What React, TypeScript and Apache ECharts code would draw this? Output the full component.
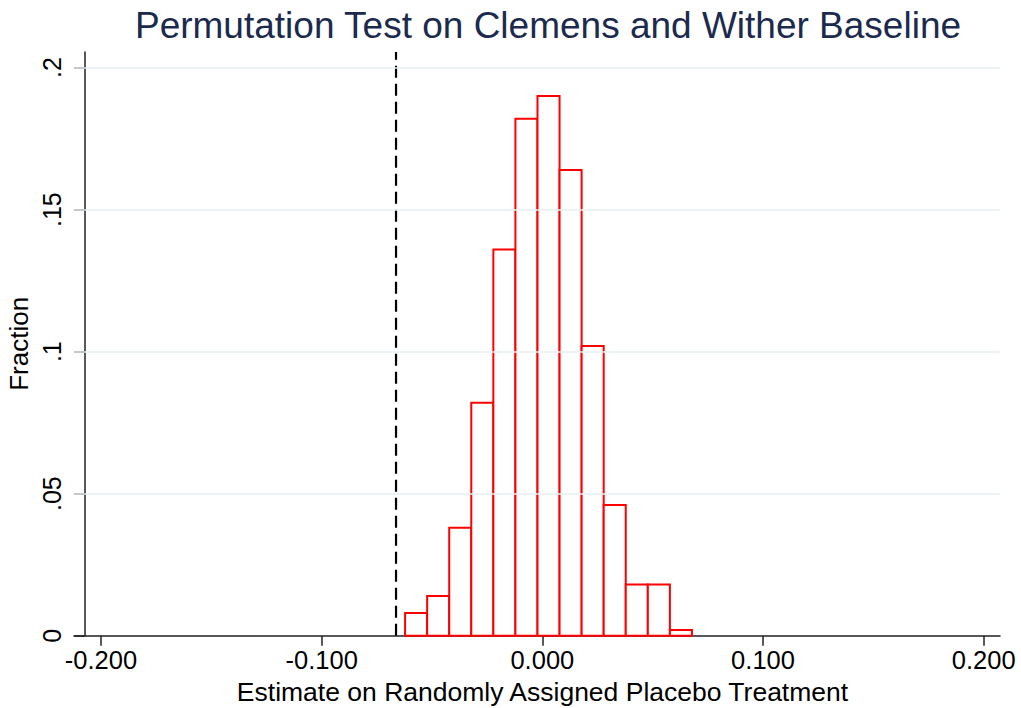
import React, { useEffect, useRef } from "react";
import * as echarts from "echarts";

// Histogram bins (lower edges) and fractions
const binStarts = [-0.0622, -0.0522, -0.0422, -0.0322, -0.0222, -0.0122, -0.0022, 0.0078, 0.0178, 0.0278, 0.0378, 0.0478, 0.0578];
const fractions = [0.008, 0.014, 0.038, 0.082, 0.136, 0.182, 0.19, 0.164, 0.102, 0.046, 0.018, 0.018, 0.002];
const binWidth = 0.01;
const actualEstimate = -0.0663;

const xTicks = [-0.2, -0.1, 0, 0.1, 0.2];
const xTickLabels = ["-0.200", "-0.100", "0.000", "0.100", "0.200"];
const yTicks = [0, 0.05, 0.1, 0.15, 0.2];
const yTickLabels = ["0", ".05", ".1", ".15", ".2"];
const yMax = 0.2055;

const titleText = "Permutation Test on Clemens and Wither Baseline";
const xName = "Estimate on Randomly Assigned Placebo Treatment";
const yName = "Fraction";

const FONT = "'Liberation Sans', Arial, sans-serif";

export default function App() {
  const ref = useRef<HTMLDivElement>(null);
  useEffect(() => {
    if (!ref.current) return;
    const chart = echarts.init(ref.current, undefined, { renderer: "svg" });
    const data = binStarts.map((s, i) => [s, fractions[i]]);
    const option: any = {
      animation: false,
      backgroundColor: "#ffffff",
      title: {
        text: titleText,
        left: 543,
        top: 2,
        textAlign: "center",
        textStyle: { fontFamily: FONT, fontSize: 37, fontWeight: "normal", color: "#1c2a4e" },
      },
      grid: { left: 74, right: 21, top: 52, bottom: 72.3, containLabel: false, outerBoundsMode: "none" },
      xAxis: {
        type: "value",
        min: -0.21223,
        max: 0.20739,
        name: xName,
        nameLocation: "middle",
        nameGap: 43,
        nameTextStyle: { fontFamily: FONT, fontSize: 26.5, color: "#000", padding: [0, 0, 0, 11] },
        axisLine: { show: true, onZero: false, lineStyle: { color: "#222", width: 1.5 } },
        axisTick: { show: true, length: 10, customValues: xTicks, lineStyle: { color: "#222", width: 1.5 } },
        axisLabel: {
          customValues: xTicks,
          margin: 11,
          fontFamily: FONT,
          fontSize: 25.5,
          color: "#000",
          formatter: (v: number) => {
            const i = xTicks.findIndex((t) => Math.abs(t - v) < 1e-9);
            return i >= 0 ? xTickLabels[i] : "";
          },
        },
        splitLine: { show: false },
      },
      yAxis: {
        type: "value",
        min: 0,
        max: yMax,
        offset: -10.7,
        name: yName,
        nameLocation: "middle",
        nameGap: 49,
        nameTextStyle: { fontFamily: FONT, fontSize: 26, color: "#000" },
        axisLine: { show: true, onZero: false, lineStyle: { color: "#222", width: 1.5 } },
        axisTick: { show: true, length: 10.7, customValues: yTicks, lineStyle: { color: "#222", width: 1.5 } },
        axisLabel: {
          customValues: yTicks,
          rotate: 90,
          margin: 20,
          fontFamily: FONT,
          fontSize: 25,
          color: "#000",
          formatter: (v: number) => {
            const i = yTicks.findIndex((t) => Math.abs(t - v) < 1e-9);
            return i >= 0 ? yTickLabels[i] : "";
          },
        },
        splitLine: { show: false },
      },
      series: [
        {
          type: "custom",
          data,
          renderItem: (params: any, api: any) => {
            const x0 = api.value(0);
            const h = api.value(1);
            const p0 = api.coord([x0, 0]);
            const p1 = api.coord([x0 + binWidth, h]);
            return {
              type: "rect",
              shape: { x: p0[0], y: p1[1], width: p1[0] - p0[0], height: p0[1] - p1[1] },
              style: { fill: "#ffffff", stroke: "#ff0000", lineWidth: 2 },
            };
          },
          markLine: {
            silent: true,
            symbol: "none",
            label: { show: false },
            data: yTicks.filter((t) => t > 0).map((t) => ({
              yAxis: t,
              lineStyle: { color: "#e6eff1", width: 1.5, type: "solid" },
            })),
          },
          z: 3,
        },
        {
          type: "line",
          data: [[actualEstimate, 0], [actualEstimate, yMax]],
          showSymbol: false,
          symbol: "none",
          silent: true,
          lineStyle: { color: "#000", width: 2.2, type: [12, 6] },
          z: 4,
        },
      ],
    };
    chart.setOption(option);
    return () => chart.dispose();
  }, []);
  return <div ref={ref} style={{ position: "fixed", left: 0, top: 0, width: 1021, height: 708 }} />;
}
